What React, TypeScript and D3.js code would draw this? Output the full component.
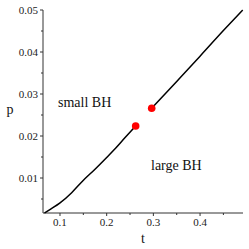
import React from "react";
import * as d3 from "d3";

// small BH branch
const lowerT = [0.0667, 0.08, 0.0994, 0.125, 0.1486, 0.175, 0.2, 0.22, 0.2385, 0.2621];
const lowerP = [0.00167, 0.0026, 0.004, 0.0065, 0.0093, 0.0121, 0.0149, 0.0172, 0.0195, 0.0224];

// large BH branch
const upperT = [0.2964, 0.35, 0.4, 0.45, 0.4913];
const upperP = [0.0266, 0.033, 0.039, 0.0451, 0.05];

// end points (red dots)
const dotT = [0.2621, 0.2964];
const dotP = [0.0224, 0.0266];

const xTicks = [0.1, 0.2, 0.3, 0.4];
const xMinor = [0.15, 0.25, 0.35, 0.45];
const yTicks = [0.01, 0.02, 0.03, 0.04, 0.05];
const yMinor = [0.005, 0.015, 0.025, 0.035, 0.045];

const font = "'Liberation Serif', 'DejaVu Serif', serif";
const axisColor = "#333";

const App: React.FC = () => {
  const width = 249;
  const height = 249;

  const x = d3.scaleLinear().domain([0.0636, 0.492]).range([43, 243]);
  const y = d3.scaleLinear().domain([0.00167, 0.05]).range([213, 10]);

  const line = d3
    .line<[number, number]>()
    .x((d) => x(d[0]))
    .y((d) => y(d[1]))
    .curve(d3.curveMonotoneX);

  const lower = lowerT.map((t, i) => [t, lowerP[i]] as [number, number]);
  const upper = upperT.map((t, i) => [t, upperP[i]] as [number, number]);

  const [x0, x1] = x.range();
  const [y0, y1] = y.range();

  return (
    <svg
      width={width}
      height={height}
      style={{ position: "absolute", left: 0, top: 0, background: "#fff" }}
    >
      {/* axes */}
      <line x1={x0} x2={x1} y1={y0} y2={y0} stroke={axisColor} strokeWidth={1} />
      <line x1={x0} x2={x0} y1={y0} y2={y1} stroke={axisColor} strokeWidth={1} />

      {xTicks.map((t) => (
        <g key={"xt" + t}>
          <line x1={x(t)} x2={x(t)} y1={y0} y2={y0 + 3} stroke={axisColor} />
          <text
            x={x(t)}
            y={y0 + 13}
            textAnchor="middle"
            fontFamily={font}
            fontSize={11}
            fill="#222"
          >
            {t.toFixed(1)}
          </text>
        </g>
      ))}
      {xMinor.map((t) => (
        <line key={"xm" + t} x1={x(t)} x2={x(t)} y1={y0} y2={y0 + 2} stroke={axisColor} />
      ))}

      {yTicks.map((p) => (
        <g key={"yt" + p}>
          <line x1={x0 - 3} x2={x0} y1={y(p)} y2={y(p)} stroke={axisColor} />
          <text
            x={x0 - 5}
            y={y(p) + 3.5}
            textAnchor="end"
            fontFamily={font}
            fontSize={11}
            fill="#222"
          >
            {p.toFixed(2)}
          </text>
        </g>
      ))}
      {yMinor.map((p) => (
        <line key={"ym" + p} x1={x0 - 2} x2={x0} y1={y(p)} y2={y(p)} stroke={axisColor} />
      ))}

      {/* axis titles */}
      <text x={(x0 + x1) / 2} y={243} textAnchor="middle" fontFamily={font} fontSize={14} fill="#111">
        t
      </text>
      <text x={10} y={114} textAnchor="middle" fontFamily={font} fontSize={14} fill="#111">
        p
      </text>

      {/* coexistence line */}
      <path d={line(lower) ?? ""} fill="none" stroke="#000" strokeWidth={1.5} />
      <path d={line(upper) ?? ""} fill="none" stroke="#000" strokeWidth={1.5} />

      {dotT.map((t, i) => (
        <circle key={"d" + i} cx={x(t)} cy={y(dotP[i])} r={3.8} fill="#ff0000" />
      ))}

      {/* region labels */}
      <text x={58} y={107} fontFamily={font} fontSize={14} fill="#111">
        small BH
      </text>
      <text x={151} y={170} fontFamily={font} fontSize={14} fill="#111">
        large BH
      </text>
    </svg>
  );
};

export default App;
